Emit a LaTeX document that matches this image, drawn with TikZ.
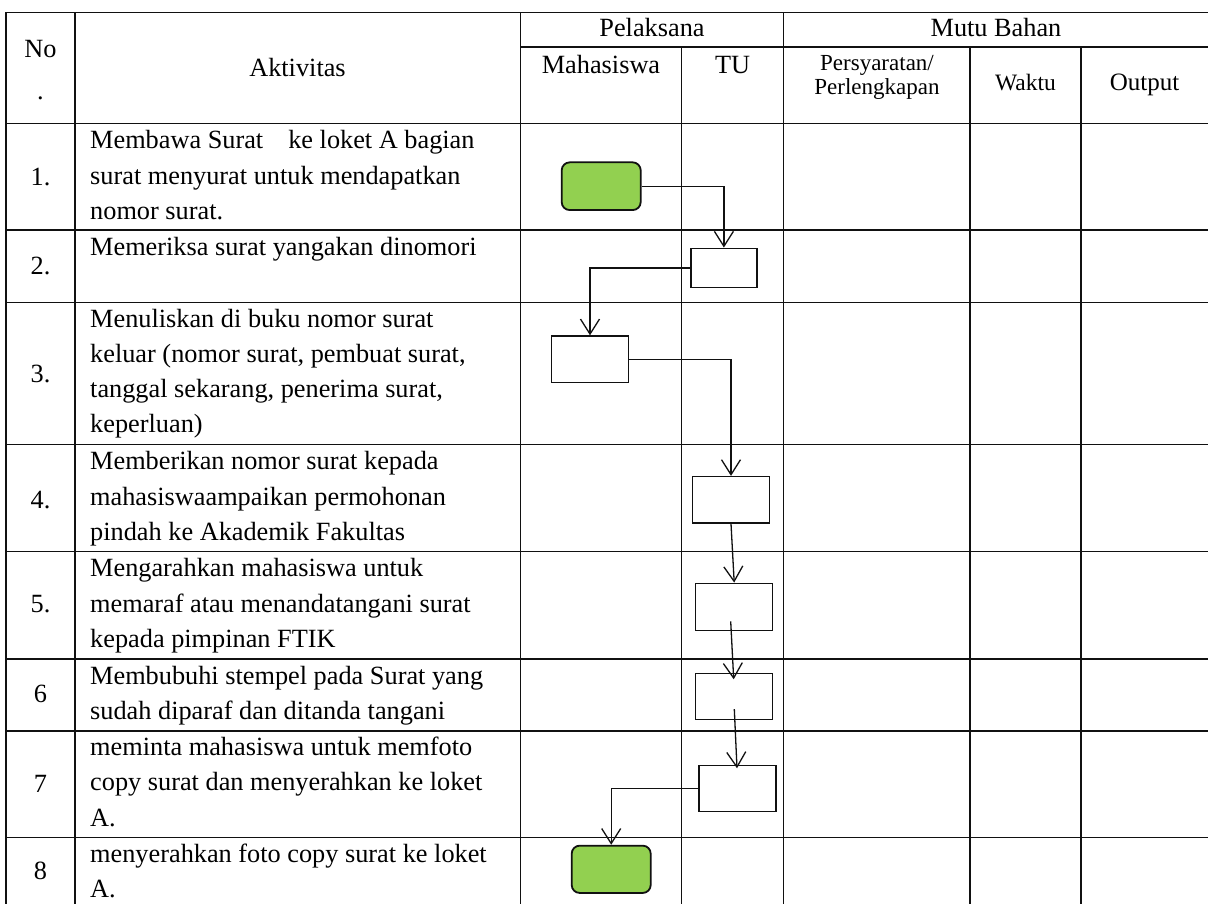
\documentclass[tikz,border=0pt]{standalone}
\usepackage{fontspec}
\setmainfont{Liberation Serif}
\usetikzlibrary{arrows.meta,calc}
\definecolor{termgreen}{HTML}{92D050}
\definecolor{ink}{HTML}{111111}
\newcommand{\bodysize}{\fontsize{26.3}{35.3}\selectfont}
\newcommand{\smallhdr}{\fontsize{23}{23.5}\selectfont}
\begin{document}
\begin{tikzpicture}[x=1pt,y=-1pt,
  grid/.style={draw=ink,line width=1.2pt},
  procbox/.style={draw=ink,line width=1.5pt,fill=white,inner sep=0pt},
  termbox/.style={draw=ink,line width=1.8pt,fill=termgreen,rounded corners=8pt,inner sep=0pt},
  arr/.style={draw=ink,line width=1.3pt,-{Straight Barb[length=15pt,width=19pt]}},
  txt/.style={anchor=base west,inner sep=0pt,font=\bodysize},
  num/.style={anchor=center,inner sep=0pt,font=\bodysize},
  hdr/.style={anchor=base,inner sep=0pt,font=\bodysize},
  shdr/.style={anchor=base,inner sep=0pt,font=\smallhdr}]
\useasboundingbox (0,0) rectangle (1208,904);
\fill[white] (0,0) rectangle (1208,904);
% table grid
\begin{scope}
\clip (0,0) rectangle (1208,904);
\foreach \yy in {12.3,123.3,230,302.3,444.7,551.7,659,731,837.7}
  \draw[grid] (6,\yy) -- (1210,\yy);
\draw[grid] (520.5,47) -- (1210,47);
\foreach \xx in {6,75,520.5,783.7}
  \draw[grid] (\xx,12.3) -- (\xx,906);
\foreach \xx in {681.7,970,1081}
  \draw[grid] (\xx,47) -- (\xx,906);
\end{scope}
% header
\node[anchor=base,inner sep=0pt,font=\fontsize{26.3}{42}\selectfont] (hno) at (40.5,58)
  {\begin{tabular}[t]{@{}c@{}}No\\.\end{tabular}};
\node[anchor=center,inner sep=0pt,font=\bodysize] (hakt) at (297.5,68) {Aktivitas};
\node[hdr] (hpel) at (652,37) {Pelaksana};
\node[hdr] (hmutu) at (996,37) {Mutu Bahan};
\node[hdr] (hmhs) at (601,73.3) {Mahasiswa};
\node[hdr] (htu) at (732.7,73.3) {TU};
\node[shdr] (hpers) at (877,70.7) {\begin{tabular}[t]{@{}c@{}}Persyaratan/\\Perlengkapan\end{tabular}};
\node[anchor=base,inner sep=0pt,font=\fontsize{23.5}{28}\selectfont] (hwak) at (1025.5,91) {Waktu};
\node[anchor=base,inner sep=0pt,font=\fontsize{25}{28}\selectfont] (hout) at (1144.5,91) {Output};
% numbers
\node[num] (n1) at (40.5,176.7) {1.};
\node[num] (n2) at (40.5,266) {2.};
\node[num] (n3) at (40.5,373.7) {3.};
\node[num] (n4) at (40.5,500) {4.};
\node[num] (n5) at (40.5,604) {5.};
\node[num] (n6) at (40.5,694) {6};
\node[num] (n7) at (40.5,783.5) {7};
\node[num] (n8) at (40.5,871) {8};
% activities
\node[txt] (t1) at (90,149) {\begin{tabular}[t]{@{}l@{}}Membawa Surat\hspace{25pt}ke loket A bagian\\surat menyurat untuk mendapatkan\\nomor surat.\end{tabular}};
\node[txt] (t2) at (90,255) {Memeriksa surat yangakan dinomori};
\node[txt] (t3) at (90,327) {\begin{tabular}[t]{@{}l@{}}Menuliskan di buku nomor surat\\keluar (nomor surat, pembuat surat,\\tanggal sekarang, penerima surat,\\keperluan)\end{tabular}};
\node[txt] (t4) at (90,469.7) {\begin{tabular}[t]{@{}l@{}}Memberikan nomor surat kepada\\mahasiswaampaikan permohonan\\pindah ke Akademik Fakultas\end{tabular}};
\node[txt] (t5) at (90,576.7) {\begin{tabular}[t]{@{}l@{}}Mengarahkan mahasiswa untuk\\memaraf atau menandatangani surat\\kepada pimpinan FTIK\end{tabular}};
\node[txt] (t6) at (90,684) {\begin{tabular}[t]{@{}l@{}}Membubuhi stempel pada Surat yang\\sudah diparaf dan ditanda tangani\end{tabular}};
\node[txt] (t7) at (90,755.5) {\begin{tabular}[t]{@{}l@{}}meminta mahasiswa untuk memfoto\\copy surat dan menyerahkan ke loket\\A.\end{tabular}};
\node[txt] (t8) at (90,862.5) {\begin{tabular}[t]{@{}l@{}}menyerahkan foto copy surat ke loket\\A.\end{tabular}};
% flow shapes
\node[termbox,minimum width=79pt,minimum height=47.7pt] (s1) at (601.2,186.2) {};
\node[procbox,minimum width=65.7pt,minimum height=39.4pt] (b2) at (723.9,268) {};
\node[procbox,minimum width=77.4pt,minimum height=46.3pt] (b3) at (590,359.2) {};
\node[procbox,minimum width=76.6pt,minimum height=46.3pt] (b4) at (731,499.8) {};
\node[procbox,minimum width=77pt,minimum height=47.4pt] (b5) at (734.2,607) {};
\node[procbox,minimum width=77pt,minimum height=46pt] (b6) at (734.2,696.7) {};
\node[procbox,minimum width=77pt,minimum height=45.6pt] (b7) at (737.5,788.5) {};
\node[termbox,minimum width=79pt,minimum height=47.3pt] (e8) at (611.2,869.3) {};
% connectors
\coordinate (c5a) at ($(b5.south)+(-3.5,-10)$);
\coordinate (c5b) at ($(b6.north)+(-0.5,6.3)$);
\coordinate (c6a) at ($(b6.south)+(0.1,-11.4)$);
\coordinate (c6b) at ($(b7.north)+(-0.5,3.3)$);
\draw[arr] (s1.east) -| (b2.north);
\draw[arr] (b2.west) -| (b3.north);
\draw[arr] (b3.east) -| (b4.north);
\draw[arr] (b4.south) -- (b5.north);
\draw[arr] (c5a) -- (c5b);
\draw[arr] (c6a) -- (c6b);
\draw[arr] (b7.west) -| (e8.north);
\end{tikzpicture}
\end{document}
